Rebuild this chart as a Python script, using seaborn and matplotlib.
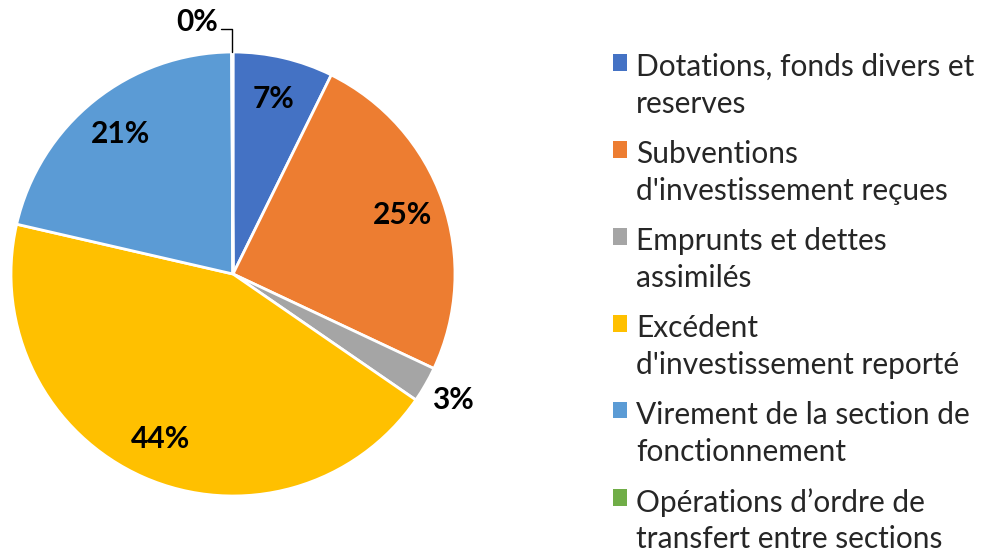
import numpy as np
import seaborn as sns
import matplotlib.pyplot as plt
from matplotlib.patches import Patch
from matplotlib.legend_handler import HandlerPatch
from matplotlib.font_manager import FontProperties

# data (percent of total)
categories = [
    "Dotations, fonds divers et\nreserves",
    "Subventions\nd'investissement reçues",
    "Emprunts et dettes\nassimilés",
    "Excédent\nd'investissement reporté",
    "Virement de la section de\nfonctionnement",
    "Opérations d\u2019ordre de\ntransfert entre sections",
]
shares = [7.3, 24.7, 2.6, 44.0, 21.3, 0.1]
pct_labels = ["7%", "25%", "3%", "44%", "21%", "0%"]
colors = ["#4472C4", "#ED7D31", "#A5A5A5", "#FFC000", "#5B9BD5", "#70AD47"]

FONT = ["Lato", "DejaVu Sans"]
FS = 21.5

sns.set_theme(style="white")
plt.rcParams["font.family"] = FONT

W, H, DPI = 985, 557, 100
fig = plt.figure(figsize=(W / DPI, H / DPI), dpi=DPI)
ax = fig.add_axes([0, 0, 1, 1])

# place pie: centre (233, 274) px, radius 222 px
R, cx, cy, L = 222, 233, 274, 1.3
side = 2 * L * R
ax.set_position([(cx - side / 2) / W, (H - cy - side / 2) / H, side / W, side / H])

wedges, texts = ax.pie(
    shares,
    colors=colors,
    startangle=90,
    counterclock=False,
    radius=1,
    wedgeprops=dict(edgecolor="white", linewidth=2),
)
ax.set_xlim(-L, L)
ax.set_ylim(-L, L)
ax.set_axis_off()

for w, lab in zip(wedges, pct_labels):
    mid = np.deg2rad((w.theta1 + w.theta2) / 2)
    if lab == "0%":
        x0 = np.cos(mid)
        ax.text(x0 - 0.158, 1.135, lab, ha="center", va="center",
                fontsize=FS, fontweight="bold", color="black", clip_on=False)
        ax.plot([x0 - 0.05, x0, x0], [1.104, 1.104, 1.0], color="black",
                lw=1, clip_on=False)
        continue
    r = 1.14 if lab == "3%" else 0.81
    ax.text(r * np.cos(mid), r * np.sin(mid), lab, ha="center", va="center",
            fontsize=FS, fontweight="bold", color="black", clip_on=False)


# legend: square aligned with first line of each two-line label
LS = 1.385
renderer = fig.canvas.get_renderer()
h, _, d = renderer.get_text_width_height_descent("lp", FontProperties(family=FONT, size=FS), ismath=False)
shift_pt = h * 72 / DPI


class FirstLineHandler(HandlerPatch):
    def create_artists(self, legend, orig_handle, xdescent, ydescent,
                       width, height, fontsize, trans):
        arts = super().create_artists(legend, orig_handle, xdescent, ydescent,
                                      width, height, fontsize, trans)
        for a in arts:
            a.set_y(a.get_y() + shift_pt)
        return arts


handles = [Patch(facecolor=c, edgecolor="none") for c in colors]
leg = fig.legend(
    handles, categories,
    loc="upper left", bbox_to_anchor=(613 / W, 1 - 53 / H),
    frameon=False, fontsize=FS,
    handlelength=0.47, handleheight=0.47, handletextpad=0.3,
    labelspacing=0.74, borderpad=0, borderaxespad=0,
    handler_map={Patch: FirstLineHandler()},
)
for t in leg.get_texts():
    t.set_linespacing(LS)

fig.savefig("out.png", dpi=DPI)
